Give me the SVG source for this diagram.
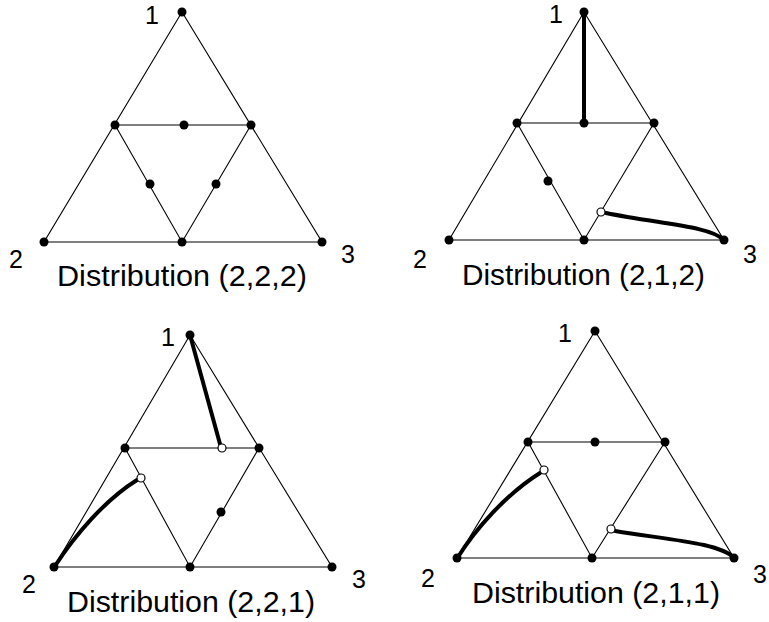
<svg xmlns="http://www.w3.org/2000/svg" width="769" height="622" viewBox="0 0 769 622">
<style>
.e{fill:none;stroke:#000;stroke-width:1.1}
.p{fill:none;stroke:#000;stroke-width:4;stroke-linecap:round}
.d{fill:#000}
.o{fill:#fff;stroke:#000;stroke-width:1.2}
.lbl{font-family:"Liberation Sans",Arial,sans-serif;font-size:25px;fill:#000;text-anchor:middle}
.cap{font-family:"Liberation Sans",Arial,sans-serif;font-size:30px;fill:#000}
</style>
<rect width="769" height="622" fill="#fff"/>

<!-- Panel 1: Distribution (2,2,2) -->
<g id="panel1">
  <g id="p1-connectors">
    <path class="e" d="M182,12 L44,242 L322,242 Z M115,125 L251,125 M115,125 L182,242 L251,125"/>
  </g>
  <g id="p1-n1"><circle class="d" cx="182" cy="12" r="4.5"/></g>
  <g id="p1-n2"><circle class="d" cx="44" cy="242" r="4.5"/></g>
  <g id="p1-n3"><circle class="d" cx="322" cy="242" r="4.5"/></g>
  <g id="p1-ml"><circle class="d" cx="115" cy="125" r="4.5"/></g>
  <g id="p1-mr"><circle class="d" cx="251" cy="125" r="4.5"/></g>
  <g id="p1-mt"><circle class="d" cx="184" cy="125" r="4.5"/></g>
  <g id="p1-bm"><circle class="d" cx="182" cy="242" r="4.5"/></g>
  <g id="p1-il"><circle class="d" cx="150" cy="184" r="4.5"/></g>
  <g id="p1-ir"><circle class="d" cx="216" cy="184" r="4.5"/></g>
  <text class="lbl" x="152" y="24">1</text>
  <text class="lbl" x="16" y="268">2</text>
  <text class="lbl" x="348" y="263">3</text>
  <text class="cap" x="57" y="286" textLength="250" lengthAdjust="spacingAndGlyphs">Distribution (2,2,2)</text>
</g>

<!-- Panel 2: Distribution (2,1,2) -->
<g id="panel2">
  <g id="p2-connectors">
    <path class="e" d="M584,12 L449,240 L724,240 Z M517,123 L654,123 M517,123 L584,240 L654,123"/>
    <path class="p" d="M584,12 L584,123"/>
    <path class="p" d="M606,213 C660,224 710,226 724,240"/>
  </g>
  <g id="p2-n1"><circle class="d" cx="584" cy="12" r="4.5"/></g>
  <g id="p2-n2"><circle class="d" cx="449" cy="240" r="4.5"/></g>
  <g id="p2-n3"><circle class="d" cx="724" cy="240" r="4.5"/></g>
  <g id="p2-ml"><circle class="d" cx="517" cy="123" r="4.5"/></g>
  <g id="p2-mr"><circle class="d" cx="654" cy="123" r="4.5"/></g>
  <g id="p2-mt"><circle class="d" cx="584" cy="123" r="4.5"/></g>
  <g id="p2-bm"><circle class="d" cx="584" cy="240" r="4.5"/></g>
  <g id="p2-il"><circle class="d" cx="548" cy="181" r="4.5"/></g>
  <g id="p2-ir"><circle class="o" cx="601" cy="212" r="4"/></g>
  <text class="lbl" x="556" y="23">1</text>
  <text class="lbl" x="420" y="268">2</text>
  <text class="lbl" x="750" y="263">3</text>
  <text class="cap" x="462" y="285" textLength="243" lengthAdjust="spacingAndGlyphs">Distribution (2,1,2)</text>
</g>

<!-- Panel 3: Distribution (2,2,1) -->
<g id="panel3">
  <g id="p3-connectors">
    <path class="e" d="M190,335 L54,567 L332,567 Z M125,448 L259,448 M125,448 L190,567 L259,448"/>
    <path class="p" d="M190,335 L220,444"/>
    <path class="p" d="M55,566 C75,535 105,500 137,480"/>
  </g>
  <g id="p3-n1"><circle class="d" cx="190" cy="335" r="4.5"/></g>
  <g id="p3-n2"><circle class="d" cx="54" cy="567" r="4.5"/></g>
  <g id="p3-n3"><circle class="d" cx="332" cy="567" r="4.5"/></g>
  <g id="p3-ml"><circle class="d" cx="125" cy="448" r="4.5"/></g>
  <g id="p3-mr"><circle class="d" cx="259" cy="448" r="4.5"/></g>
  <g id="p3-bm"><circle class="d" cx="190" cy="567" r="4.5"/></g>
  <g id="p3-mt"><circle class="o" cx="222" cy="448" r="4"/></g>
  <g id="p3-il"><circle class="o" cx="141" cy="478" r="4"/></g>
  <g id="p3-ir"><circle class="d" cx="221" cy="512" r="4.5"/></g>
  <text class="lbl" x="168" y="346">1</text>
  <text class="lbl" x="29" y="593">2</text>
  <text class="lbl" x="359" y="588">3</text>
  <text class="cap" x="67" y="612" textLength="248" lengthAdjust="spacingAndGlyphs">Distribution (2,2,1)</text>
</g>

<!-- Panel 4: Distribution (2,1,1) -->
<g id="panel4">
  <g id="p4-connectors">
    <path class="e" d="M595,331 L457,558 L734,558 Z M528,442 L665,442 M528,442 L592,558 L665,442"/>
    <path class="p" d="M458,557 C475,530 505,495 540,473"/>
    <path class="p" d="M615,531 C670,540 720,543 734,558"/>
  </g>
  <g id="p4-n1"><circle class="d" cx="595" cy="331" r="4.5"/></g>
  <g id="p4-n2"><circle class="d" cx="457" cy="558" r="4.5"/></g>
  <g id="p4-n3"><circle class="d" cx="734" cy="558" r="4.5"/></g>
  <g id="p4-ml"><circle class="d" cx="528" cy="442" r="4.5"/></g>
  <g id="p4-mr"><circle class="d" cx="665" cy="442" r="4.5"/></g>
  <g id="p4-mt"><circle class="d" cx="595" cy="442" r="4.5"/></g>
  <g id="p4-bm"><circle class="d" cx="592" cy="558" r="4.5"/></g>
  <g id="p4-il"><circle class="o" cx="544" cy="470" r="4"/></g>
  <g id="p4-ir"><circle class="o" cx="611" cy="529" r="4"/></g>
  <text class="lbl" x="565" y="342">1</text>
  <text class="lbl" x="428" y="587">2</text>
  <text class="lbl" x="760" y="583">3</text>
  <text class="cap" x="472" y="603" textLength="248" lengthAdjust="spacingAndGlyphs">Distribution (2,1,1)</text>
</g>
</svg>
